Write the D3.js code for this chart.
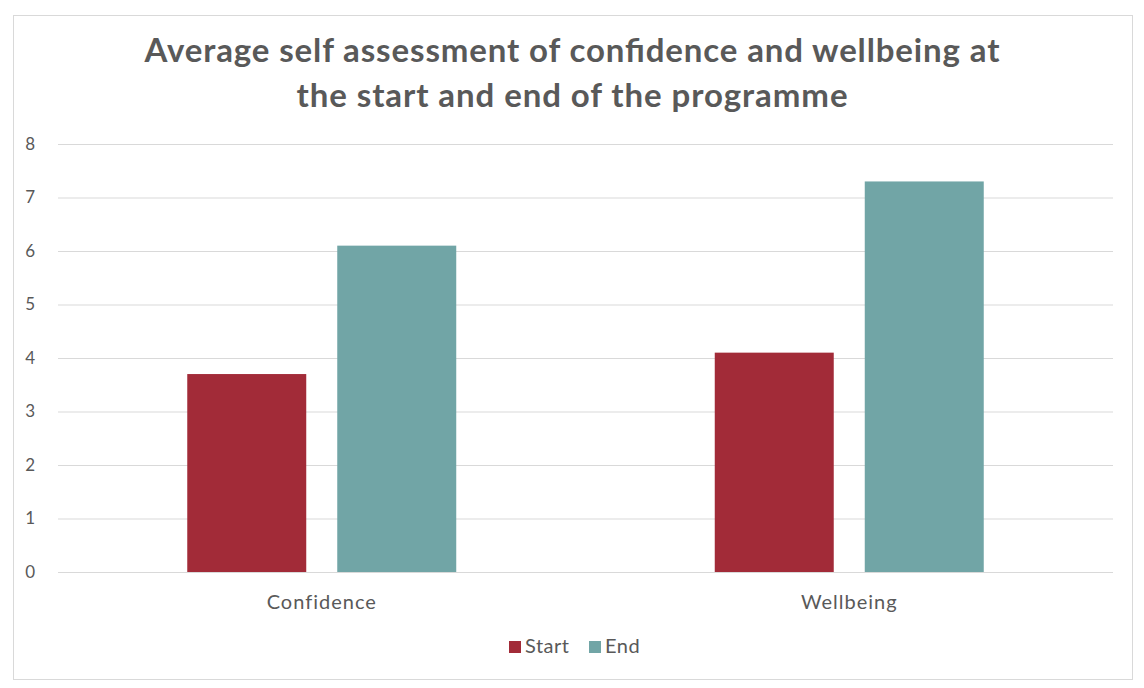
<!DOCTYPE html>
<html><head><meta charset="utf-8">
<script src="https://cdn.jsdelivr.net/npm/d3@7"></script>
<style>body{margin:0;background:#fff;}</style>
</head><body>
<svg id="c" width="1144" height="688"></svg>
<script>
const categories = ["Confidence", "Wellbeing"];
const seriesNames = ["Start", "End"];
const startValues = [3.7, 4.1];
const endValues = [6.1, 7.3];
const yTicks = [0,1,2,3,4,5,6,7,8];
const titleLines = ["Average self assessment of confidence and wellbeing at", "the start and end of the programme"];
const colors = ["#A22B38", "#71A5A6"];

(function(){
const svg = d3.select("#c");
svg.append("rect").attr("x",13.5).attr("y",15.5).attr("width",1119).attr("height",664)
  .attr("fill","#fff").attr("stroke","#d9d9d9");

const pLeft = 58, pRight = 1113, pTop = 144, pBottom = 572;
const y = d3.scaleLinear().domain([0,8]).range([pBottom, pTop]);
const x0 = d3.scaleBand().domain(categories).range([pLeft, pRight]).paddingInner(0).paddingOuter(0);
const x1 = d3.scaleBand().domain(seriesNames).range([0, x0.bandwidth()]).paddingInner(0.2067).paddingOuter(0.8617);

const yAxis = d3.axisLeft(y).tickValues(yTicks).tickSize(-(pRight-pLeft)).tickFormat(d3.format("d"));
const gy = svg.append("g").attr("transform",`translate(${pLeft},0)`).call(yAxis);
gy.select(".domain").remove();
gy.selectAll(".tick line").attr("stroke","#d9d9d9").attr("stroke-width",1);
gy.selectAll(".tick text").attr("x",-23).attr("fill","#595959").style("font-family","Lato, sans-serif").style("font-size","17px");

const data = categories.map((c,i)=>({cat:c, vals:[startValues[i], endValues[i]]}));
const g = svg.append("g");
data.forEach(d=>{
  d.vals.forEach((v,j)=>{
    g.append("rect")
      .attr("x", x0(d.cat)+x1(seriesNames[j]))
      .attr("y", y(v))
      .attr("width", x1.bandwidth())
      .attr("height", y(0)-y(v))
      .attr("fill", colors[j]);
  });
});

const xAxis = d3.axisBottom(x0).tickSize(0);
const gx = svg.append("g").attr("transform",`translate(0,${pBottom})`).call(xAxis);
gx.select(".domain").remove();
gx.selectAll(".tick text").attr("dy","0").attr("y",37).attr("fill","#595959")
  .style("font-family","Lato, sans-serif").style("font-size","20px").style("letter-spacing","1px");

const titleWidths = [855, 551];
svg.selectAll(".title").data(titleLines).enter().append("text")
  .attr("x",572).attr("y",(d,i)=>62+i*45).attr("text-anchor","middle")
  .attr("textLength",(d,i)=>titleWidths[i]).attr("lengthAdjust","spacing")
  .attr("fill","#595959").style("font-family","Lato, sans-serif").style("font-weight","700")
  .style("font-size","33px").text(d=>d);

const leg = svg.append("g");
const legX = [509, 589];
seriesNames.forEach((s,i)=>{
  leg.append("rect").attr("x",legX[i]).attr("y",641).attr("width",12).attr("height",12).attr("fill",colors[i]);
  leg.append("text").attr("x",legX[i]+16).attr("y",653).attr("fill","#595959")
    .style("font-family","Lato, sans-serif").style("font-size","20px").style("letter-spacing","0.5px").text(s);
});
})();
</script>
</body></html>
